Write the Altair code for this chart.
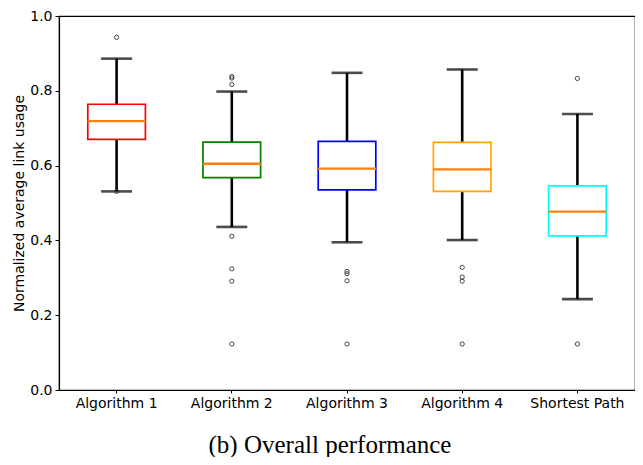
import altair as alt
import pandas as pd

categories = ["Algorithm 1", "Algorithm 2", "Algorithm 3", "Algorithm 4", "Shortest Path"]
whisker_low = [0.531, 0.436, 0.395, 0.401, 0.243]
q1 = [0.670, 0.568, 0.535, 0.531, 0.412]
median = [0.719, 0.605, 0.592, 0.590, 0.477]
q3 = [0.764, 0.663, 0.665, 0.662, 0.546]
whisker_high = [0.886, 0.798, 0.848, 0.857, 0.738]
outliers = [
    [0.943, 0.531],
    [0.838, 0.834, 0.817, 0.411, 0.324, 0.291, 0.123],
    [0.317, 0.311, 0.292, 0.123],
    [0.328, 0.302, 0.291, 0.123],
    [0.833, 0.123],
]
box_colors = ["red", "green", "blue", "orange", "cyan"]

stats = pd.DataFrame({
    "cat": categories,
    "lo": whisker_low,
    "q1": q1,
    "med": median,
    "q3": q3,
    "hi": whisker_high,
})
out_df = pd.DataFrame(
    [{"cat": c, "v": v} for c, vals in zip(categories, outliers) for v in vals]
)

x = alt.X("cat:N", sort=categories, title=None,
          scale=alt.Scale(paddingInner=0, paddingOuter=0),
          axis=alt.Axis(labelAngle=0, tickSize=3))
yscale = alt.Scale(domain=[0, 1], nice=False)
yaxis = alt.Axis(values=[0, 0.2, 0.4, 0.6, 0.8, 1.0], format=".1f", grid=False,
                 title="Normalized average link usage", tickSize=4, titlePadding=3)

base = alt.Chart(stats)

wl = base.mark_rule(color="black", strokeWidth=2.6).encode(
    x=x, y=alt.Y("lo:Q", scale=yscale, axis=yaxis), y2="q1:Q")
wh = base.mark_rule(color="black", strokeWidth=2.6).encode(
    x=x, y=alt.Y("q3:Q", scale=yscale, axis=yaxis), y2="hi:Q")
box = base.mark_bar(fill="white", strokeWidth=1.7,
                    width=alt.RelativeBandSize(0.5)).encode(
    x=x, y=alt.Y("q1:Q", scale=yscale, axis=yaxis), y2="q3:Q",
    stroke=alt.Stroke("cat:N", scale=alt.Scale(domain=categories, range=box_colors),
                      legend=None))
cap_lo = base.mark_tick(color="black", thickness=2.6, size=31).encode(
    x=x, y=alt.Y("lo:Q", scale=yscale, axis=yaxis))
cap_hi = base.mark_tick(color="black", thickness=2.6, size=31).encode(
    x=x, y=alt.Y("hi:Q", scale=yscale, axis=yaxis))
med = base.mark_tick(color="#ff7f0e", thickness=2.4, size=58, opacity=1).encode(
    x=x, y=alt.Y("med:Q", scale=yscale, axis=yaxis))
pts = alt.Chart(out_df).mark_point(shape="circle", filled=False, color="#333333",
                                   size=18, strokeWidth=0.9, opacity=1).encode(
    x=x, y=alt.Y("v:Q", scale=yscale, axis=yaxis))

chart = alt.layer(wl, wh, box, med, cap_lo, cap_hi, pts).properties(
    width=576, height=374,
    autosize=alt.AutoSizeParams(type="none"),
    padding={"left": 51, "top": 8, "right": 0, "bottom": 67},
    title=alt.TitleParams("(b) Overall performance", orient="bottom",
                          font="Liberation Serif", fontSize=25, fontWeight="normal",
                          color="black", offset=23, dx=-17),
).configure_view(stroke="black", strokeWidth=1.2).configure_axis(
    labelFont="DejaVu Sans", labelFontSize=14, labelColor="black",
    titleFont="DejaVu Sans", titleFontSize=14, titleFontWeight="normal",
    titleColor="black", domainColor="black", tickColor="black",
    domainWidth=1.2, labelPadding=3,
)

chart.save("out.html", embed_options={"renderer": "svg", "actions": False})
